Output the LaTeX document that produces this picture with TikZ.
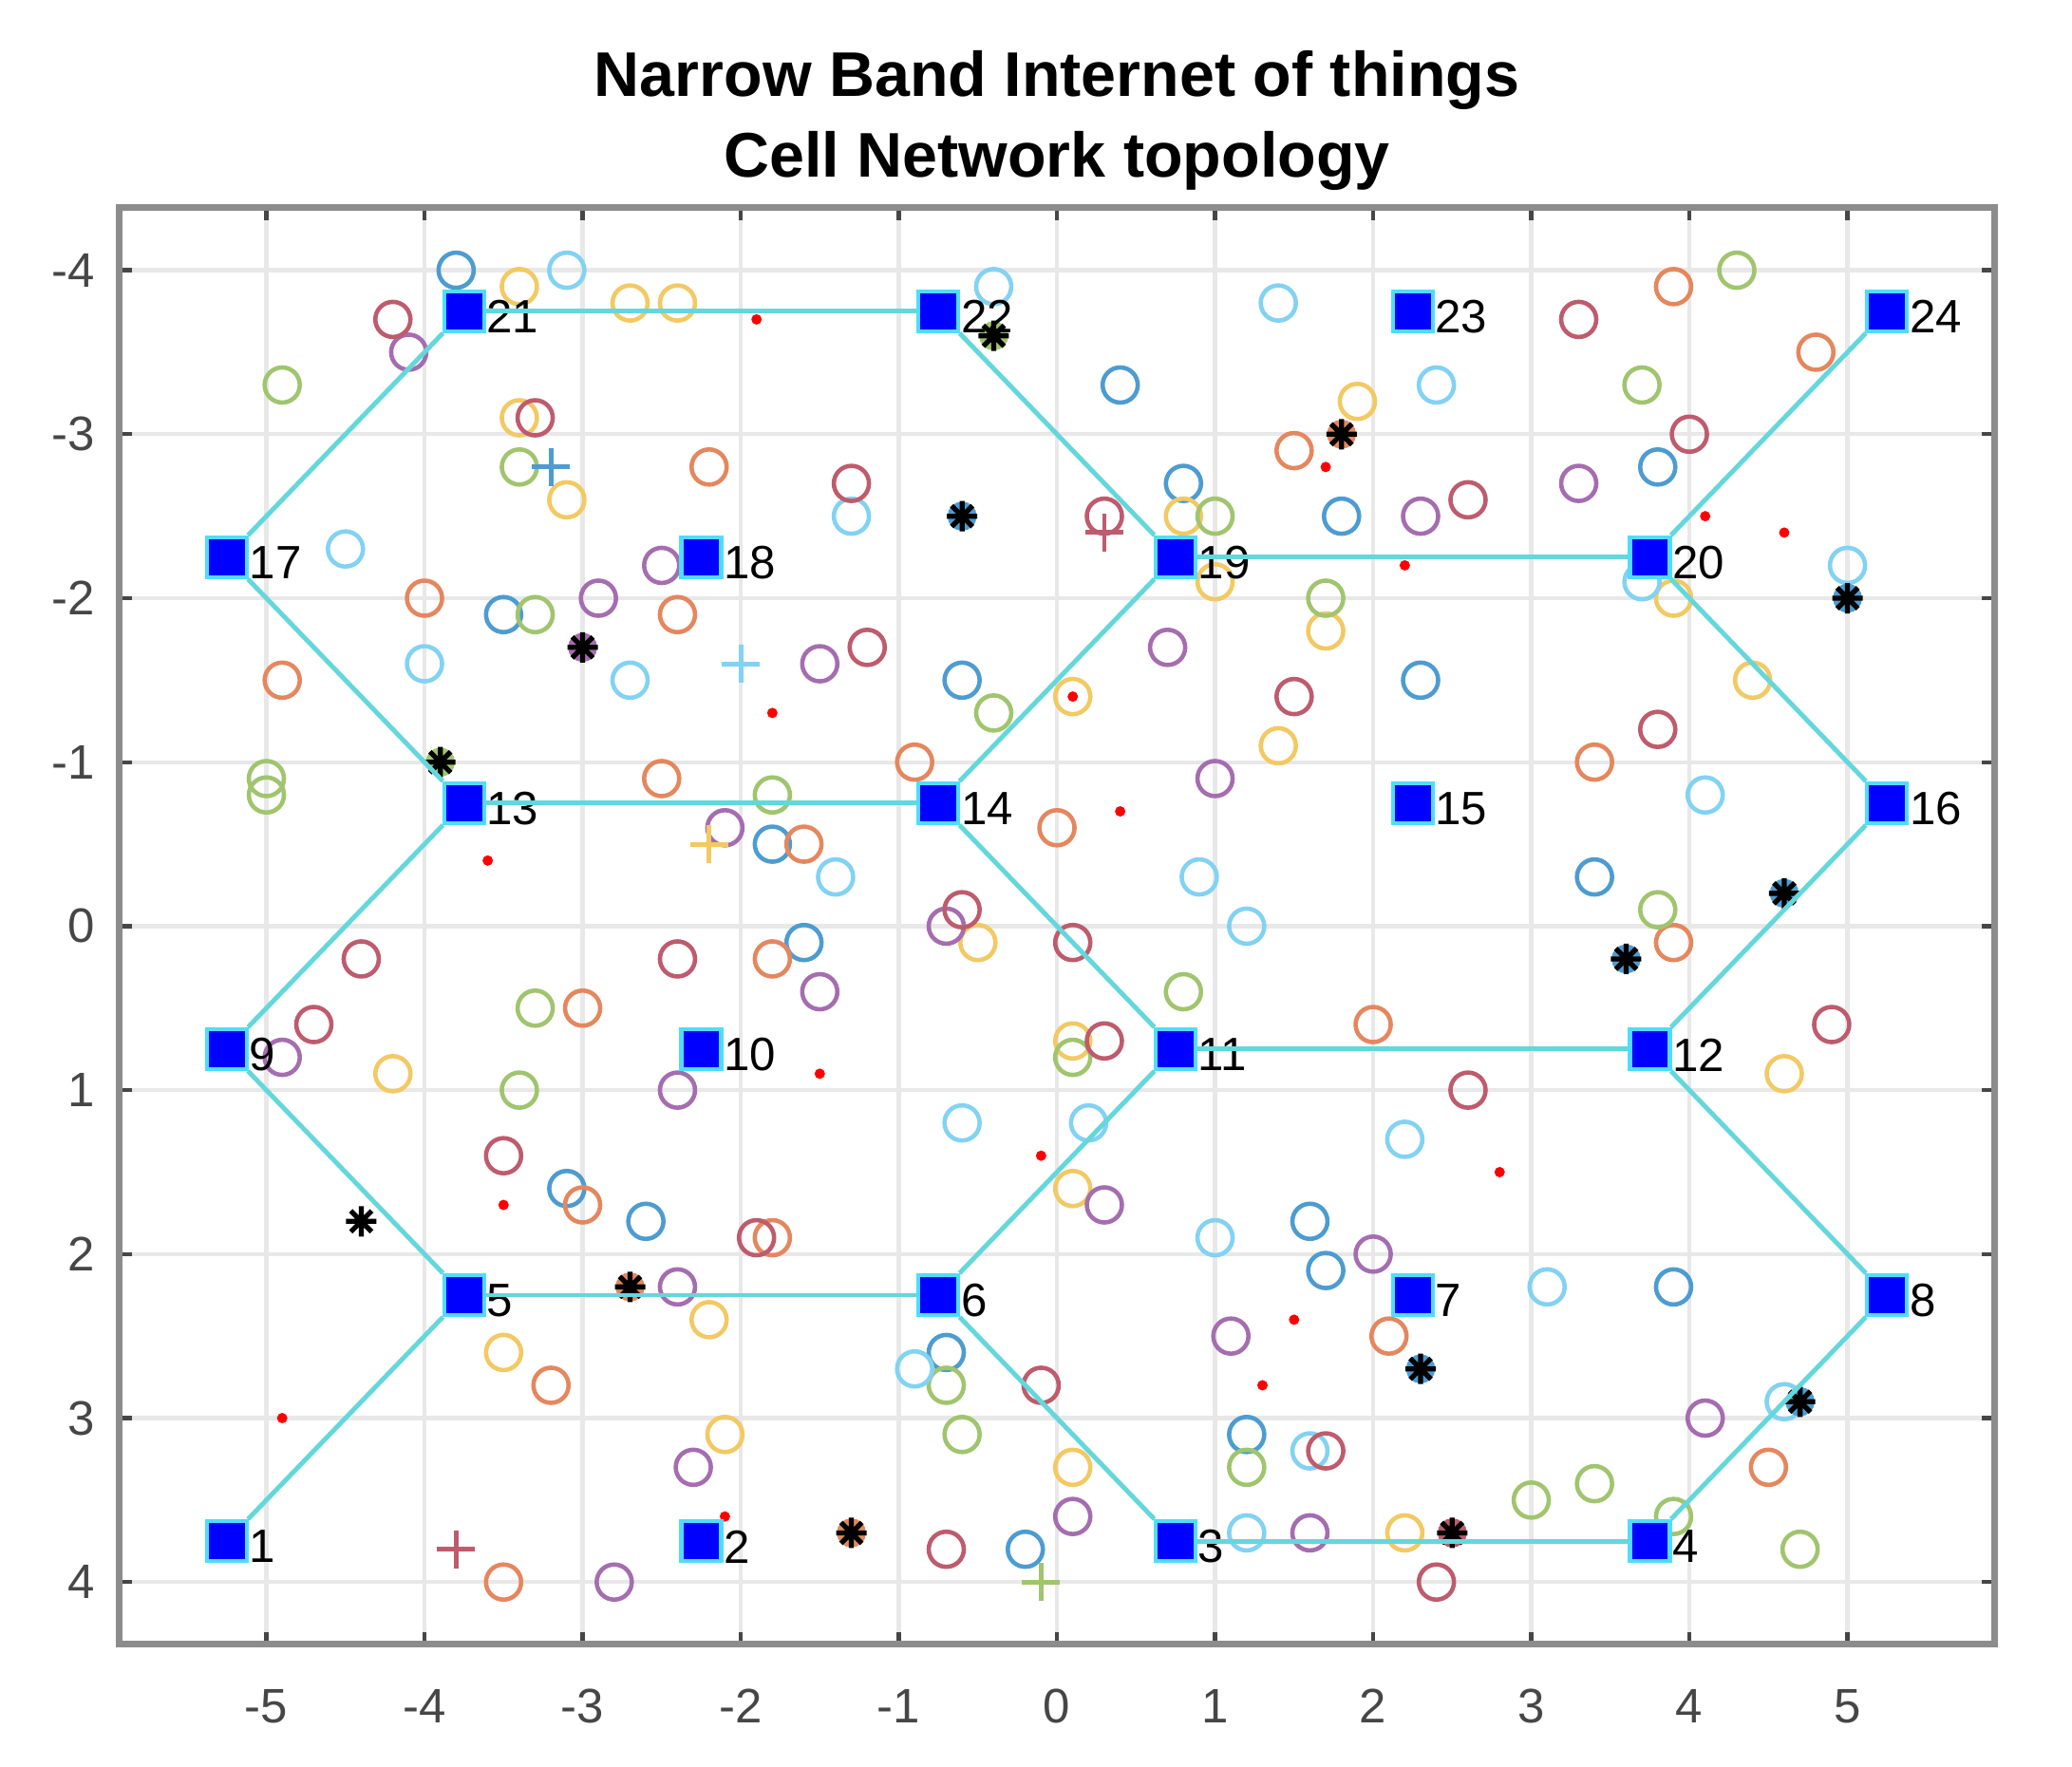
\documentclass[tikz,border=0pt]{standalone}
\usepackage{fontspec}
\setmainfont{Liberation Sans}
\usepackage{tikz}
\definecolor{mblue}{RGB}{77,156,209}
\definecolor{morange}{RGB}{229,135,94}
\definecolor{myellow}{RGB}{242,201,99}
\definecolor{mpurple}{RGB}{165,109,176}
\definecolor{mgreen}{RGB}{160,197,110}
\definecolor{mlblue}{RGB}{130,210,243}
\definecolor{mdred}{RGB}{190,91,109}
\definecolor{cellline}{RGB}{100,215,220}
\definecolor{bsfill}{RGB}{0,0,255}
\definecolor{bsedge}{RGB}{80,220,255}
\definecolor{axgray}{RGB}{140,140,140}
\definecolor{tickgray}{RGB}{70,70,70}

\begin{document}
\begin{tikzpicture}[x=1.665cm, y=-1.727cm,
  gridl/.style={draw={rgb,255:red,232;green,232;blue,232}, line width=1.2pt},
  axbox/.style={draw=axgray, line width=2pt},
  tickm/.style={draw=tickgray, line width=1.2pt},
  tickl/.style={text=tickgray, font=\fontsize{14.5pt}{16pt}\selectfont, inner sep=0pt},
  titlef/.style={font=\fontsize{18.9pt}{22pt}\selectfont\bfseries, inner sep=0pt, anchor=base},
  ring/.style={line width=1.3pt},
  plusm/.style={line width=1.4pt},
  starm/.style={draw=black, line width=1.5pt},
  bs/.style={draw=bsedge, fill=bsfill, line width=1.2pt, minimum size=0.42cm, inner sep=0pt},
  num/.style={font=\fontsize{14pt}{16pt}\selectfont, inner sep=0pt, yshift=-0.06cm},
  cell/.style={draw=cellline, line width=1.4pt}]
\useasboundingbox (-6.685,-5.648) rectangle (6.420,5.127);

\node[titlef] (title1) at (0,-5.06) {Narrow Band Internet of things};
\node[titlef] (title2) at (0,-4.568) {Cell Network topology};

\foreach \gx in {-5,...,5} \draw[gridl] (\gx,-4.38) -- (\gx,4.38);
\foreach \gy in {-4,...,4} \draw[gridl] (-5.93,\gy) -- (5.93,\gy);
\foreach \gx in {-5,...,5} {
  \draw[tickm] (\gx,-4.38) -- ++(0,-0.13cm);
  \draw[tickm] (\gx,4.38) -- ++(0,0.13cm);
  \node[tickl] (xt\gx) at (\gx,4.757) {\gx};
}
\foreach \gy in {-4,...,4} {
  \draw[tickm] (-5.93,\gy) -- ++(0.13cm,0);
  \draw[tickm] (5.93,\gy) -- ++(-0.13cm,0);
  \node[tickl, anchor=east] (yt\gy) at (-6.08,\gy) {\gy};
}
\draw[axbox] (-5.93,-4.38) rectangle (5.93,4.38);

\foreach \x/\y in {-3.8/-4.0, 0.4/-3.3, 0.8/-2.7, 1.8/-2.5, 3.8/-2.8, -3.5/-1.9, -0.6/-1.5, 2.3/-1.5, -1.8/-0.5, 3.4/-0.3, -1.6/0.1, -3.1/1.6, -2.6/1.8, 1.6/1.8, 1.7/2.1, 3.9/2.2, -0.7/2.6, 1.2/3.1, -0.2/3.8}
  \draw[ring, mblue] (\x,\y) circle (0.185cm);
\foreach \x/\y in {3.9/-3.9, 4.8/-3.5, 1.5/-2.9, -2.2/-2.8, -4.0/-2.0, -2.4/-1.9, -4.9/-1.5, -2.5/-0.9, -0.9/-1.0, 3.4/-1.0, 0.0/-0.6, -1.6/-0.5, 3.9/0.1, -1.8/0.2, -3.0/0.5, 2.0/0.6, -3.0/1.7, -1.8/1.9, 2.1/2.5, -3.2/2.8, 4.5/3.3, -3.5/4.0}
  \draw[ring, morange] (\x,\y) circle (0.185cm);
\foreach \x/\y in {-3.4/-3.9, -2.7/-3.8, -2.4/-3.8, 1.9/-3.2, -3.4/-3.1, -3.1/-2.6, 0.8/-2.5, 1.0/-2.1, 3.9/-2.0, 1.7/-1.8, 4.4/-1.5, 0.1/-1.4, 1.4/-1.1, -0.5/0.1, 0.1/0.7, -4.2/0.9, 4.6/0.9, 0.1/1.6, -2.2/2.4, -3.5/2.6, -2.1/3.1, 0.1/3.3, 2.2/3.7}
  \draw[ring, myellow] (\x,\y) circle (0.185cm);
\foreach \x/\y in {-4.1/-3.5, 3.3/-2.7, 2.3/-2.5, -2.5/-2.2, -2.9/-2.0, -1.5/-1.6, 0.7/-1.7, 1.0/-0.9, -2.1/-0.6, -0.7/0.0, -1.5/0.4, -4.9/0.8, -2.4/1.0, 0.3/1.7, 2.0/2.0, -2.4/2.2, 1.1/2.5, 4.1/3.0, -2.3/3.3, 0.1/3.6, 1.6/3.7, -2.8/4.0}
  \draw[ring, mpurple] (\x,\y) circle (0.185cm);
\foreach \x/\y in {4.3/-4.0, -4.9/-3.3, 3.7/-3.3, -3.4/-2.8, 1.0/-2.5, -3.3/-1.9, 1.7/-2.0, -0.4/-1.3, -5.0/-0.9, -5.0/-0.8, -1.8/-0.8, 3.8/-0.1, 0.8/0.4, -3.3/0.5, 0.1/0.8, -3.4/1.0, -0.7/2.8, -0.6/3.1, 1.2/3.3, 3.4/3.4, 3.0/3.5, 3.9/3.6, 4.7/3.8}
  \draw[ring, mgreen] (\x,\y) circle (0.185cm);
\foreach \x/\y in {-3.1/-4.0, -0.4/-3.9, 1.4/-3.8, 2.4/-3.3, -1.3/-2.5, -4.5/-2.3, 5.0/-2.2, 3.7/-2.1, -4.0/-1.6, -2.7/-1.5, 4.1/-0.8, -1.4/-0.3, 0.9/-0.3, 1.2/0.0, -0.6/1.2, 0.2/1.2, 2.2/1.3, 1.0/1.9, 3.1/2.2, -0.9/2.7, 4.6/2.9, 1.6/3.2, 1.2/3.7}
  \draw[ring, mlblue] (\x,\y) circle (0.185cm);
\foreach \x/\y in {-4.2/-3.7, 3.3/-3.7, -3.3/-3.1, 4.0/-3.0, -1.3/-2.7, 2.6/-2.6, 0.3/-2.5, -1.2/-1.7, 1.5/-1.4, 3.8/-1.2, -0.6/-0.1, 0.1/0.1, -4.4/0.2, -2.4/0.2, -4.7/0.6, 4.9/0.6, 0.3/0.7, 2.6/1.0, -3.5/1.4, -1.9/1.9, -0.1/2.8, 1.7/3.2, -0.7/3.8, 2.4/4.0}
  \draw[ring, mdred] (\x,\y) circle (0.185cm);

\foreach \c/\x/\y in {mblue/-3.2/-2.8, mdred/0.3/-2.4, mlblue/-2.0/-1.6, myellow/-2.2/-0.5, mdred/-3.8/3.8, mgreen/-0.1/4.0}
  \draw[plusm, \c] (\x,\y) +(-0.2cm,0) -- +(0.2cm,0) +(0,-0.2cm) -- +(0,0.2cm);

\foreach \x/\y in {-1.9/-3.7, 1.7/-2.8, 4.1/-2.5, 4.6/-2.4, 2.2/-2.2, -1.8/-1.3, 0.1/-1.4, 0.4/-0.7, -3.6/-0.4, -1.5/0.9, -0.1/1.4, 2.8/1.5, -3.5/1.7, 1.5/2.4, 1.3/2.8, -4.9/3.0, -2.1/3.6}
  \fill[red] (\x,\y) circle (0.055cm);

\foreach \c/\x/\y in {mgreen/-0.4/-3.6, morange/1.8/-3.0, mblue/-0.6/-2.5, mblue/5.0/-2.0, mpurple/-3.0/-1.7, mgreen/-3.9/-1.0, mblue/4.6/-0.2, mblue/3.6/0.2, white/-4.4/1.8, morange/-2.7/2.2, mblue/2.3/2.7, mblue/4.7/2.9, morange/-1.3/3.7, mdred/2.5/3.7} {
  \draw[\c, line width=3pt] (\x,\y) circle (0.1cm);
  \draw[starm] (\x,\y) +(-0.16cm,0) -- +(0.16cm,0) +(0,-0.16cm) -- +(0,0.16cm)
    +(-0.11cm,-0.11cm) -- +(0.11cm,0.11cm) +(-0.11cm,0.11cm) -- +(0.11cm,-0.11cm);
  \fill[black] (\x,\y) circle (0.05cm);
}

\node[bs, label={[num]right:1}] (n1) at (-5.25,3.75) {};
\node[bs, label={[num]right:2}] (n2) at (-2.25,3.75) {};
\node[bs, label={[num]right:3}] (n3) at (0.75,3.75) {};
\node[bs, label={[num]right:4}] (n4) at (3.75,3.75) {};
\node[bs, label={[num]right:5}] (n5) at (-3.75,2.25) {};
\node[bs, label={[num]right:6}] (n6) at (-0.75,2.25) {};
\node[bs, label={[num]right:7}] (n7) at (2.25,2.25) {};
\node[bs, label={[num]right:8}] (n8) at (5.25,2.25) {};
\node[bs, label={[num]right:9}] (n9) at (-5.25,0.75) {};
\node[bs, label={[num]right:10}] (n10) at (-2.25,0.75) {};
\node[bs, label={[num]right:11}] (n11) at (0.75,0.75) {};
\node[bs, label={[num]right:12}] (n12) at (3.75,0.75) {};
\node[bs, label={[num]right:13}] (n13) at (-3.75,-0.75) {};
\node[bs, label={[num]right:14}] (n14) at (-0.75,-0.75) {};
\node[bs, label={[num]right:15}] (n15) at (2.25,-0.75) {};
\node[bs, label={[num]right:16}] (n16) at (5.25,-0.75) {};
\node[bs, label={[num]right:17}] (n17) at (-5.25,-2.25) {};
\node[bs, label={[num]right:18}] (n18) at (-2.25,-2.25) {};
\node[bs, label={[num]right:19}] (n19) at (0.75,-2.25) {};
\node[bs, label={[num]right:20}] (n20) at (3.75,-2.25) {};
\node[bs, label={[num]right:21}] (n21) at (-3.75,-3.75) {};
\node[bs, label={[num]right:22}] (n22) at (-0.75,-3.75) {};
\node[bs, label={[num]right:23}] (n23) at (2.25,-3.75) {};
\node[bs, label={[num]right:24}] (n24) at (5.25,-3.75) {};

\draw[cell] (n1) -- (n5);
\draw[cell] (n5) -- (n9);
\draw[cell] (n9) -- (n13);
\draw[cell] (n13) -- (n17);
\draw[cell] (n17) -- (n21);
\draw[cell] (n21) -- (n22);
\draw[cell] (n22) -- (n19);
\draw[cell] (n19) -- (n20);
\draw[cell] (n20) -- (n24);
\draw[cell] (n20) -- (n16);
\draw[cell] (n16) -- (n12);
\draw[cell] (n12) -- (n8);
\draw[cell] (n8) -- (n4);
\draw[cell] (n4) -- (n3);
\draw[cell] (n3) -- (n6);
\draw[cell] (n6) -- (n5);
\draw[cell] (n6) -- (n11);
\draw[cell] (n11) -- (n12);
\draw[cell] (n11) -- (n14);
\draw[cell] (n14) -- (n13);
\draw[cell] (n14) -- (n19);
\end{tikzpicture}
\end{document}
